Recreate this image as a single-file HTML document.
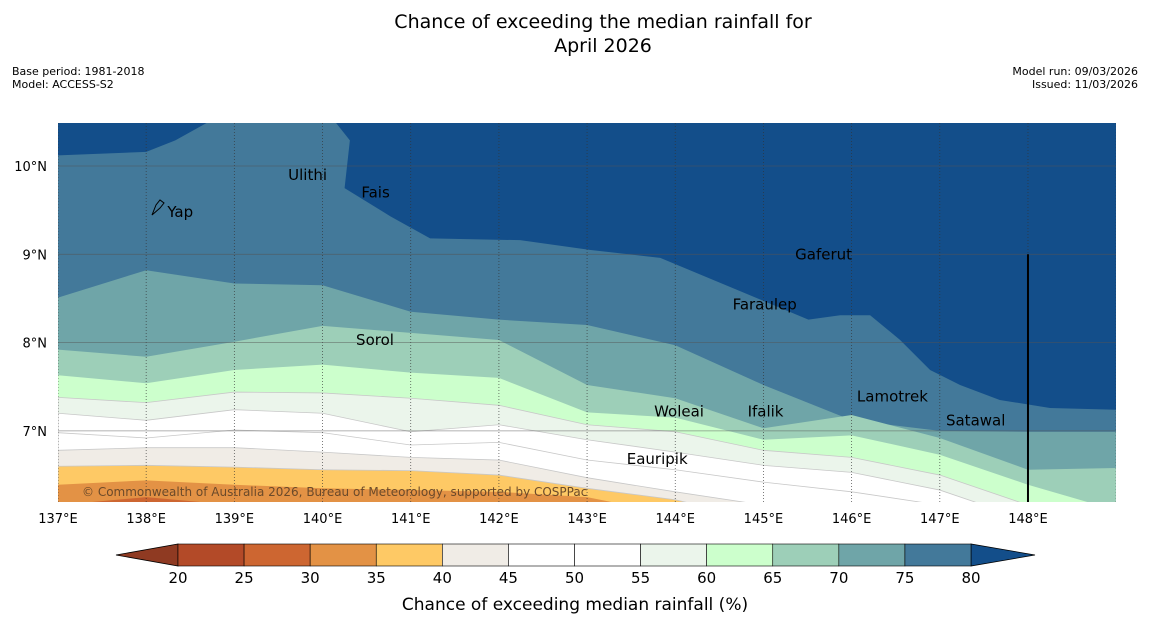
<!DOCTYPE html>
<html><head><meta charset="utf-8"><style>
body{margin:0;background:#fff;font-family:"Liberation Sans","DejaVu Sans",sans-serif;overflow:hidden}
svg{display:block}
svg text{font-family:"DejaVu Sans","Liberation Sans",sans-serif}
</style></head><body>
<svg id="c" width="1150" height="644" xmlns="http://www.w3.org/2000/svg">
<rect width="1150" height="644" fill="#fff"/>
<text x="603" y="28" font-size="19" text-anchor="middle">Chance of exceeding the median rainfall for</text>
<text x="603" y="52" font-size="19" text-anchor="middle">April 2026</text>
<text x="12" y="75" font-size="11">Base period: 1981-2018</text>
<text x="12" y="88" font-size="11">Model: ACCESS-S2</text>
<text x="1138" y="75" font-size="11" text-anchor="end">Model run: 09/03/2026</text>
<text x="1138" y="88" font-size="11" text-anchor="end">Issued: 11/03/2026</text>
<defs><clipPath id="mc"><rect x="58" y="123" width="1058" height="379"/></clipPath></defs>
<g id="map" clip-path="url(#mc)"></g>
<g id="cb"></g>
<text x="575" y="610" font-size="17" text-anchor="middle">Chance of exceeding median rainfall (%)</text>
</svg>
<script>
const lons=[137,138,139,140,141,142,143,144,145,146,147,148,149];
const thresholds=[80,75,70,65,60,55,50,45,40,35,30];
const b80Lons=[137,138,138.33,138.78,139.99,140.08,140.31,140.25,140.77,141.22,142.24,143.03,143.83,144.96,145.51,145.87,146.21,146.55,146.89,147.23,147.68,148.25,149];
const b80=[10.12,10.16,10.29,10.54,10.58,10.58,10.29,9.75,9.43,9.18,9.16,9.05,8.96,8.49,8.26,8.31,8.31,8.03,7.69,7.52,7.35,7.26,7.24];
const b75=[8.51,8.82,8.67,8.65,8.35,8.26,8.20,7.97,7.52,7.12,7.00,6.99,6.99];
const b70=[7.92,7.84,8.01,8.19,8.11,8.03,7.52,7.37,7.03,7.18,6.92,6.56,6.58];
const b65=[7.63,7.54,7.69,7.75,7.66,7.60,7.21,7.15,6.90,6.95,6.73,6.39,6.10];
const b60=[7.38,7.32,7.44,7.43,7.37,7.29,7.07,6.99,6.78,6.70,6.50,6.16,5.99];
const b55=[7.20,7.12,7.24,7.20,6.99,7.07,6.90,6.76,6.61,6.53,6.33,5.99,5.88];
const b50=[6.98,6.92,7.01,6.98,6.84,6.87,6.67,6.56,6.42,6.31,6.16,5.88,5.76];
const b45=[6.78,6.81,6.81,6.76,6.70,6.67,6.47,6.31,6.16,5.99,5.88,5.76,5.65];
const b40=[6.60,6.61,6.59,6.56,6.55,6.50,6.35,6.22,5.99,5.76,5.6,5.5,5.4];
const b35=[6.39,6.44,6.39,6.35,6.33,6.31,6.25,6.05,5.88,5.7,5.5,5.4,5.3];
const b30=[6.16,6.25,6.16,6.05,5.93,5.8,5.7,5.6,5.5,5.4,5.3,5.2,5.1];
const bandColors=['#43799a','#6fa5a8','#9dcfb8','#ccffcc','#ebf5eb','#ffffff','#ffffff','#f0ece6','#fec965','#e39245','#cd6631'];
const cbTicks=[20,25,30,35,40,45,50,55,60,65,70,75,80];
const cbColors=['#b34a28','#cd6631','#e39245','#fec965','#f0ece6','#ffffff','#ffffff','#ebf5eb','#ccffcc','#9dcfb8','#6fa5a8','#43799a'];
const places=[["Yap",138.24,9.48],["Ulithi",139.61,9.9],["Fais",140.44,9.7],["Gaferut",145.36,9.0],["Faraulep",144.65,8.43],["Sorol",140.38,8.03],["Woleai",143.76,7.22],["Ifalik",144.82,7.22],["Lamotrek",146.06,7.39],["Satawal",147.07,7.12],["Eauripik",143.45,6.68]];
const xLabels=[137,138,139,140,141,142,143,144,145,146,147,148];
const yLabels=[7,8,9,10];
const NS='http://www.w3.org/2000/svg';
const X=l=>58+88.18*(l-137);
const Y=t=>166+88.3*(10-t);
function mk(tag,a,p){const e=document.createElementNS(NS,tag);for(const k in a)e.setAttribute(k,a[k]);p.appendChild(e);return e;}
const map=document.getElementById('map');
const bg=mk('rect',{x:58,y:123,width:1058,height:379,fill:'#134e8a'},map);


const bounds=[b80,b75,b70,b65,b60,b55,b50,b45,b40,b35,b30];
bounds.forEach((b,i)=>{
 const ls=(i===0)?b80Lons:lons;
 let pts=ls.map((l,j)=>X(l)+','+Y(b[j])).join(' ');
 const poly=mk('polygon',{points:pts+' '+X(149)+',510 '+X(137)+',510',fill:bandColors[i],stroke:'#c8c8c8','stroke-width':(i>=4&&i<=8)?0.8:0},map);
 
 
});
lons.forEach(l=>{const ln=mk('line',{x1:X(l),x2:X(l),y1:123,y2:502,stroke:'#333','stroke-width':0.8,'stroke-dasharray':'1,2',opacity:0.8},map);
 
 });
yLabels.forEach(t=>{const ln=mk('line',{x1:58,x2:1116,y1:Y(t),y2:Y(t),stroke:'#555','stroke-width':0.8,opacity:0.6},map);
 
 });
const vl=mk('line',{x1:X(148),x2:X(148),y1:Y(9),y2:502,stroke:'#000','stroke-width':2},map);


const isl=mk('path',{d:'M152,215 L156,205 L160,200 L164,203 L160,208 Z',fill:'none',stroke:'#000','stroke-width':1},map);


places.forEach(p=>{const t=mk('text',{x:X(p[1]),y:Y(p[2])+5,'font-size':15,fill:'#000'},map);t.textContent=p[0];
 
 });
const cp=mk('text',{x:82,y:496,'font-size':12,fill:'#6b4a2a'},map);cp.textContent='© Commonwealth of Australia 2026, Bureau of Meteorology, supported by COSPPac';


const svg=document.getElementById('c');
xLabels.forEach(l=>{const t=mk('text',{x:X(l),y:523,'font-size':13,'text-anchor':'middle'},svg);t.textContent=l+'°E';
 
 });
yLabels.forEach(v=>{const t=mk('text',{x:47,y:Y(v)+5,'font-size':13,'text-anchor':'end'},svg);t.textContent=v+'°N';
 
 });
const cb=document.getElementById('cb');
const CX=v=>178+(v-20)*(793/60);
const lt=mk('polygon',{points:'116,555 178,544 178,566',fill:'#8f3a22',stroke:'#000','stroke-width':0.8},cb);


const rt=mk('polygon',{points:'1035,555 971,544 971,566',fill:'#134e8a',stroke:'#000','stroke-width':0.8},cb);


cbColors.forEach((c,i)=>{const r=mk('rect',{x:CX(cbTicks[i]),y:544,width:CX(cbTicks[i+1])-CX(cbTicks[i]),height:22,fill:c,stroke:'#000','stroke-width':0.6},cb);
 
 });
cbTicks.forEach(v=>{const t=mk('text',{x:CX(v),y:583,'font-size':15,'text-anchor':'middle'},cb);t.textContent=v;
 
 });
</script>
</body></html>
